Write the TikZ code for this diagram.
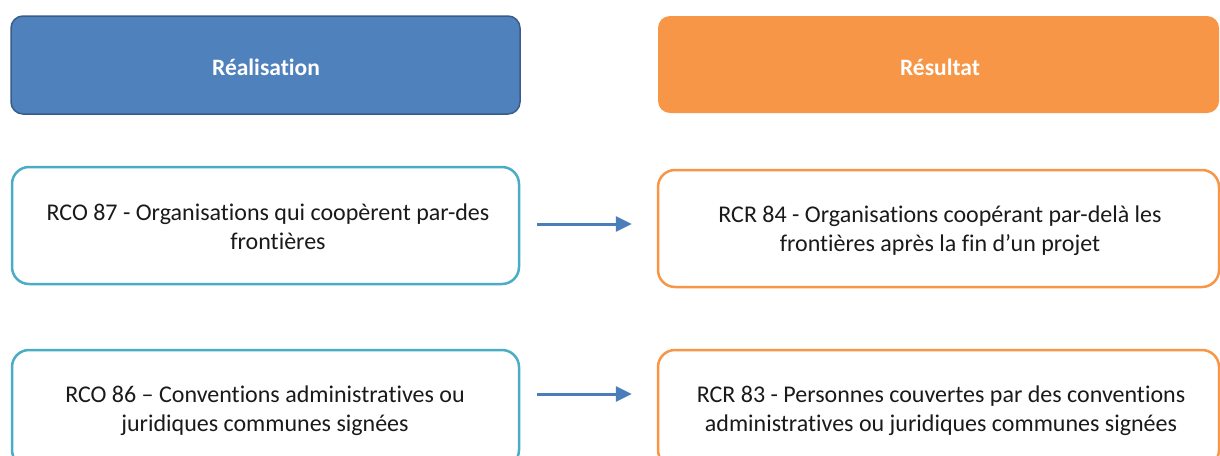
\documentclass[tikz,border=0pt]{standalone}
\usepackage{fontspec}
\usetikzlibrary{arrows.meta}
\setmainfont[Ligatures=NoCommon]{Carlito}
\definecolor{hdrblue}{HTML}{4F81BD}
\definecolor{hdrblueedge}{HTML}{385D8A}
\definecolor{hdrorange}{HTML}{F79646}
\definecolor{boxcyan}{HTML}{4BACC6}
\definecolor{arrblue}{HTML}{4A7EBB}
\definecolor{txt}{HTML}{1A1A1A}
\begin{document}
\begin{tikzpicture}[x=1pt,y=-1pt,
  hdr/.style={rounded corners=12pt, minimum height=98pt, inner sep=0pt},
  leftbox/.style={draw=boxcyan, line width=2.5pt, rounded corners=17pt, fill=white, minimum width=507pt, minimum height=117pt, inner sep=0pt},
  rightbox/.style={draw=hdrorange, line width=2.5pt, rounded corners=17pt, fill=white, minimum width=561pt, minimum height=117pt, inner sep=0pt},
  lbl/.style={font=\fontsize{24}{29.5}\selectfont, text=txt, align=center, inner sep=0pt, anchor=base},
  hlbl/.style={font=\fontsize{23.5}{29.5}\selectfont\bfseries, text=white, inner sep=0pt, anchor=base},
  flow/.style={draw=arrblue, line width=3pt, -{Triangle[length=16pt,width=15pt]}}
]
\useasboundingbox (0,0) rectangle (1220,455);
\clip (0,0) rectangle (1220,455);
% headers
\node[hdr, fill=hdrblue, draw=hdrblueedge, line width=1.5pt, minimum width=509pt] (h1) at (265.5,65) {};
\node[hdr, fill=hdrorange, minimum width=561pt, minimum height=97pt] (h2) at (938.5,64.5) {};
\node[hlbl] (h1t) at (266,75) {Réalisation};
\node[hlbl] (h2t) at (940,75) {Résultat};
% boxes
\node[leftbox] (l1) at (265.5,225.5) {};
\node[rightbox] (r1) at (938.5,228.5) {};
\node[leftbox] (l2) at (265.5,408.5) {};
\node[rightbox] (r2) at (938.5,408.5) {};
% texts
\node[lbl] (l1t) at (268,249.5) {RCO 87 - Organisations qui coopèrent par-des\\\hspace*{20pt}frontières};
\node[lbl] (r1t) at (940,251.5) {RCR 84 - Organisations coopérant par-delà les\\frontières après la fin d’un projet};
\node[lbl] (l2t) at (265,431.5) {RCO 86 – Conventions administratives ou\\juridiques communes signées};
\node[lbl] (r2t) at (941,431.5) {RCR 83 - Personnes couvertes par des conventions\\administratives ou juridiques communes signées};
% arrows
\draw[flow] ([xshift=17pt,yshift=1.5pt]l1.east) -- ([xshift=-25pt,yshift=4.5pt]r1.west);
\draw[flow] ([xshift=17pt,yshift=14.5pt]l2.east) -- ([xshift=-25pt,yshift=14.5pt]r2.west);
\end{tikzpicture}
\end{document}
